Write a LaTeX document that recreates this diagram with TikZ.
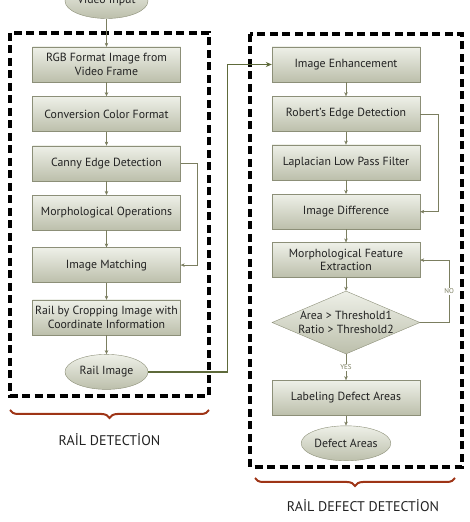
\documentclass[tikz,border=0pt]{standalone}
\usepackage{fontspec}
\setmainfont{PT Sans}
\usetikzlibrary{positioning,arrows.meta,shapes.geometric,decorations.pathreplacing,calc}
\definecolor{olive700}{HTML}{5e6a3a}
\definecolor{olive500}{HTML}{7b7e60}
\definecolor{sage300}{HTML}{8c8f78}
\definecolor{sage200}{HTML}{bcbfab}
\definecolor{sage100}{HTML}{eef0e8}
\definecolor{rust600}{HTML}{9e3416}
\definecolor{ink}{HTML}{222222}
\tikzset{
  every node/.style={font=\fontsize{11.8}{13.5}\selectfont, text=ink},
  stage/.style={
    rectangle, draw=sage300, top color=sage100, bottom color=sage200,
    minimum width=148pt, minimum height=35pt,
    align=center, inner sep=2pt
  },
  terminal/.style={
    ellipse, draw=sage300, top color=sage100, bottom color=sage200,
    minimum width=83pt, minimum height=35pt, inner sep=0pt
  },
  decision/.style={
    diamond, draw=sage300, top color=sage100, bottom color=sage200,
    minimum width=148pt, minimum height=63pt, aspect=2.35,
    inner sep=-10pt, align=center
  },
  arrow/.style={
    -{Stealth[length=4pt,width=3.5pt]},
    draw=olive500
  },
  link/.style={
    -{Stealth[length=6pt,width=5pt]},
    line width=1.4pt, draw=olive700
  },
  groupbox/.style={
    draw=black, line width=3.5pt, dash pattern=on 8pt off 4.5pt
  },
  groupbrace/.style={
    decorate, decoration={brace, amplitude=8pt},
    line width=2pt, draw=rust600
  },
  cond/.style={font=\fontsize{7}{8}\selectfont, text=olive500, fill=white, inner sep=1pt},
  grouplabel/.style={font=\fontsize{14}{16}\selectfont},
}
\begin{document}
\begin{tikzpicture}
  \useasboundingbox (0,0) rectangle (470pt,522pt);
  \begin{scope}[x=1pt, y=1pt]
  % dashed groups
  \draw[groupbox] (10,489) rectangle (209,126);
  \draw[groupbox] (250,488) rectangle (462,55);

  % rail detection
  \node[terminal] (vin) at (106.5,521) {Video Input};
  \node[stage] (rgb) at (106.5,457.5) {RGB Format Image from\\Video Frame};
  \node[stage, below=14pt of rgb] (conv) {Conversion Color Format};
  \node[stage, below=14pt of conv] (canny) {Canny Edge Detection};
  \node[stage, below=14pt of canny] (morph) {Morphological Operations};
  \node[stage, below=17pt of morph] (match) {Image Matching};
  \node[stage, below=17pt of match] (crop) {Rail by Cropping Image with\\Coordinate Information};
  \node[terminal, below=19pt of crop] (rail) {Rail Image};

  % defect detection
  \node[stage] (enh) at (346,457.5) {Image Enhancement};
  \node[stage, below=14pt of enh] (rob) {Robert's Edge Detection};
  \node[stage, below=13pt of rob] (lap) {Laplacian Low Pass Filter};
  \node[stage, below=14pt of lap] (diff) {Image Difference};
  \node[stage, below=13pt of diff] (feat) {Morphological Feature\\Extraction};
  \node[decision, below=13pt of feat] (dec) {Area > Threshold1\\Ratio > Threshold2};
  \node[stage, below=26pt of dec] (lab) {Labeling Defect Areas};
  \node[terminal, below=10pt of lab] (def) {Defect Areas};

  \draw[arrow] (vin) -- (rgb);
  \draw[arrow] (rgb) -- (conv);
  \draw[arrow] (conv) -- (canny);
  \draw[arrow] (canny) -- (morph);
  \draw[arrow] (morph) -- (match);
  \draw[arrow] (match) -- (crop);
  \draw[arrow] (crop) -- (rail);
  \draw[arrow] (canny.east) -- ++(16,0) |- (match.east);

  \draw[link] (rail.east) -- ++(79,0) |- (enh.west);

  \draw[arrow] (enh) -- (rob);
  \draw[arrow] (rob) -- (lap);
  \draw[arrow] (lap) -- (diff);
  \draw[arrow] (diff) -- (feat);
  \draw[arrow] (feat) -- (dec);
  \draw[arrow] (dec) -- node[cond] {YES} (lab);
  \draw[arrow] (lab) -- (def);
  \draw[arrow] (rob.east) -- ++(18,0) |- (diff.east);
  \draw[arrow] (dec.east) -- ++(29,0) |- node[cond, pos=0.25] {NO} (feat.east);

  % braces
  \draw[groupbrace] (209,112) -- (10,112) node[midway, yshift=-30pt, grouplabel] {RAİL DETECTİON};
  \draw[groupbrace] (455,44) -- (255,44) node[midway, yshift=-28pt, xshift=8pt, grouplabel] {RAİL DEFECT DETECTİON};
  \end{scope}
\end{tikzpicture}
\end{document}
